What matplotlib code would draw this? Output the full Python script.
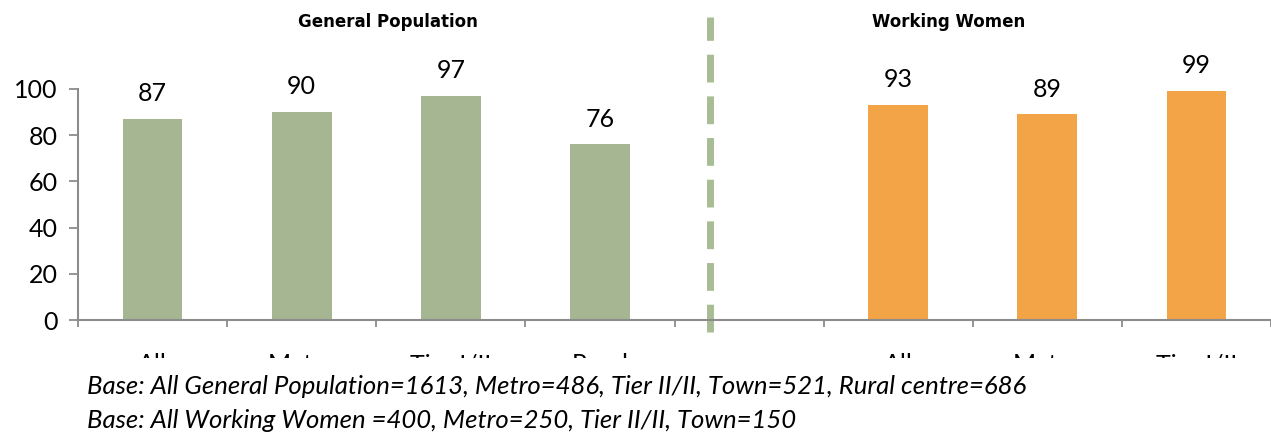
import matplotlib.pyplot as plt
from matplotlib.patches import Rectangle

# chart data
categories = ["All", "Metro", "Tier I/II", "Rural", "", "All", "Metro", "Tier I/II"]
gen_pop = [87, 90, 97, 76]
working_women = [93, 89, 99]
group_titles = ["General Population", "Working Women"]
y_ticks = [0, 20, 40, 60, 80, 100]
footnotes = [
    "Base: All General Population=1613, Metro=486, Tier II/II, Town=521, Rural centre=686",
    "Base: All Working Women =400, Metro=250, Tier II/II, Town=150",
]

green = "#A6B592"
orange = "#F2A447"
axis_grey = "#8C8C8C"

plt.rcParams['font.family'] = ['Lato', 'DejaVu Sans']

fig = plt.figure(figsize=(12.71, 4.32), dpi=100)
ax = fig.add_axes([78 / 1271, 1 - 320 / 432, 1 - 78 / 1271, (320 - 89) / 432])

x_gen = list(range(len(gen_pop)))
x_ww = list(range(5, 5 + len(working_women)))

bars_g = ax.bar(x_gen, gen_pop, width=0.4, color=green)
bars_w = ax.bar(x_ww, working_women, width=0.4, color=orange)

for bars, vals in [(bars_g, gen_pop), (bars_w, working_women)]:
    for b, v in zip(bars, vals):
        ax.annotate(str(v), (b.get_x() + b.get_width() / 2, v),
                    xytext=(0, 10), textcoords="offset points",
                    ha="center", va="bottom", fontsize=18,
                    annotation_clip=False)

# separator between the two groups
ax.plot([3.74, 3.74], [-5, 131], color="#A9BD94", lw=5, dashes=(4, 2),
        clip_on=False, solid_capstyle="butt", dash_capstyle="butt")

ax.set_xlim(-0.5, 7.5)
ax.set_ylim(0, 100)
ax.set_yticks(y_ticks)
ax.set_xticks([i + 0.5 for i in range(-1, 8)], minor=False)
ax.set_xticklabels([])
ax.set_xticks(range(len(categories)), minor=True)
ax.set_xticklabels(categories, minor=True)
ax.tick_params(axis="x", which="major", length=5, width=1.3, color=axis_grey)
ax.tick_params(axis="x", which="minor", length=0, pad=24, labelsize=18)
ax.tick_params(axis="y", length=6.5, width=1.3, color=axis_grey, labelsize=18, pad=8)

for s in ["top", "right"]:
    ax.spines[s].set_visible(False)
for s in ["left", "bottom"]:
    ax.spines[s].set_color(axis_grey)
    ax.spines[s].set_linewidth(1.5)

fig.text(388 / 1271, 1 - 22 / 432, group_titles[0], ha="center", va="center",
         fontsize=12, fontweight="bold", family="DejaVu Sans")
fig.text(949 / 1271, 1 - 22 / 432, group_titles[1], ha="center", va="center",
         fontsize=12, fontweight="bold", family="DejaVu Sans")

# the category labels are cut off halfway in the source picture
fig.patches.append(Rectangle((0, 0), 1, 1 - 358 / 432, transform=fig.transFigure,
                             facecolor="white", edgecolor="none", zorder=2))

fig.text(87 / 1271, 1 - 387 / 432, footnotes[0], ha="left", va="center",
         fontsize=18.5, style="italic", zorder=3)
fig.text(87 / 1271, 1 - 420 / 432, footnotes[1], ha="left", va="center",
         fontsize=18.5, style="italic", zorder=3)

fig.savefig("out.png", dpi=100)
